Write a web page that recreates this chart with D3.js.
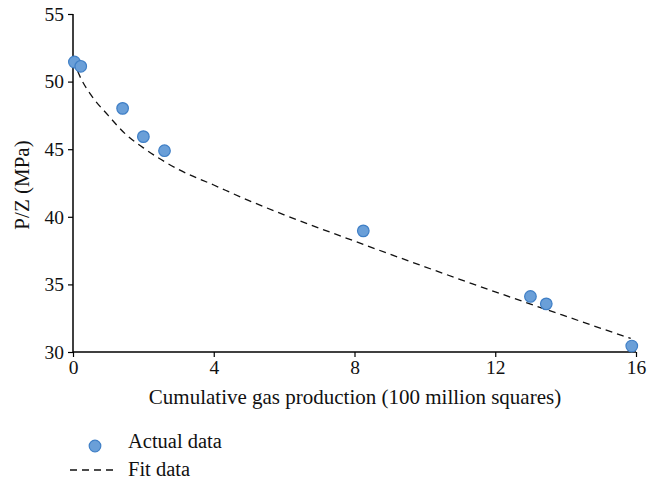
<!DOCTYPE html>
<html>
<head>
<meta charset="utf-8">
<script src="https://cdn.jsdelivr.net/npm/d3@7/dist/d3.min.js"></script>
<style>
  html, body { margin: 0; padding: 0; background: #fff; }
  svg { display: block; font-family: "Liberation Serif", "DejaVu Serif", serif; }
</style>
</head>
<body>
<svg id="chart" width="660" height="485"></svg>
<script>
// Measured P/Z against cumulative gas production
const actualX = [0.04, 0.22, 1.41, 2.0, 2.6, 8.25, 13.0, 13.45, 15.88];
const actualY = [51.45, 51.13, 48.02, 45.93, 44.89, 38.96, 34.11, 33.56, 30.44];

// Fitted curve samples
const fitX = [0, 0.25, 0.5, 1, 1.5, 2, 3, 4, 5, 6, 8, 10, 12, 14, 15.85];
const fitY = [51.6, 50.1, 49.05, 47.5, 46.1, 45.1, 43.5, 42.35, 41.2, 40.15, 38.2, 36.3, 34.45, 32.65, 31.0];

const xTicks = [0, 4, 8, 12, 16];
const yTicks = [30, 35, 40, 45, 50, 55];

const xTitle = "Cumulative gas production (100 million squares)";
const yTitle = "P/Z (MPa)";
const legendLabels = ["Actual data", "Fit data"];

const svg = d3.select("#chart");
const plotLeft = 73, plotRight = 636, plotTop = 14, plotBottom = 352;

const x = d3.scaleLinear().domain([0, 16]).range([plotLeft, plotRight]);
const y = d3.scaleLinear().domain([30, 55]).range([plotBottom, plotTop]);

const dotFill = "#6a9fd8";
const dotStroke = "#3f7fc6";

// Axes
const xAxis = svg.append("g")
  .attr("transform", `translate(0,${plotBottom})`)
  .call(d3.axisBottom(x).tickValues(xTicks).tickSize(5).tickPadding(3).tickFormat(d3.format("d")));
const yAxis = svg.append("g")
  .attr("transform", `translate(${plotLeft},0)`)
  .call(d3.axisLeft(y).tickValues(yTicks).tickSize(5).tickPadding(4).tickFormat(d3.format("d")));

[xAxis, yAxis].forEach(g => {
  g.select(".domain").attr("stroke", "#000").attr("stroke-width", 1.5);
  g.selectAll(".tick line").attr("stroke", "#000").attr("stroke-width", 1.2);
  g.selectAll(".tick text").attr("fill", "#111").attr("font-size", 19.5)
    .attr("font-family", "Liberation Serif, DejaVu Serif, serif");
});
xAxis.select(".domain").attr("d", `M${plotLeft},0H${plotRight}`);
yAxis.select(".domain").attr("d", `M0,${plotTop}V${plotBottom}`);

// Fitted curve
const fitData = fitX.map((d, i) => [d, fitY[i]]);
svg.append("path")
  .datum(fitData)
  .attr("fill", "none")
  .attr("stroke", "#111")
  .attr("stroke-width", 1.3)
  .attr("stroke-dasharray", "7,5")
  .attr("d", d3.line().x(d => x(d[0])).y(d => y(d[1])).curve(d3.curveMonotoneX));

// Measured points
const pts = actualX.map((d, i) => [d, actualY[i]]);
svg.append("g").selectAll("circle")
  .data(pts)
  .join("circle")
  .attr("cx", d => x(d[0]))
  .attr("cy", d => y(d[1]))
  .attr("r", 5.8)
  .attr("fill", dotFill)
  .attr("stroke", dotStroke)
  .attr("stroke-width", 1.2);

// Axis titles
svg.append("text")
  .attr("x", 355)
  .attr("y", 404)
  .attr("text-anchor", "middle")
  .attr("font-size", 21)
  .attr("fill", "#111")
  .text(xTitle);

svg.append("text")
  .attr("transform", `translate(29,${(plotTop + plotBottom) / 2 + 2}) rotate(-90)`)
  .attr("text-anchor", "middle")
  .attr("font-size", 21)
  .attr("fill", "#111")
  .text(yTitle);

// Legend
const legend = svg.append("g");
legend.append("circle")
  .attr("cx", 95).attr("cy", 446).attr("r", 5.8)
  .attr("fill", dotFill).attr("stroke", dotStroke).attr("stroke-width", 1.2);
legend.append("line")
  .attr("x1", 70).attr("x2", 116).attr("y1", 470).attr("y2", 470)
  .attr("stroke", "#111").attr("stroke-width", 1.3).attr("stroke-dasharray", "7,5");
legend.selectAll("text.lab")
  .data(legendLabels)
  .join("text")
  .attr("class", "lab")
  .attr("x", 128)
  .attr("y", (d, i) => 448 + i * 28)
  .attr("font-size", 20.5)
  .attr("fill", "#111")
  .text(d => d);
</script>
</body>
</html>
